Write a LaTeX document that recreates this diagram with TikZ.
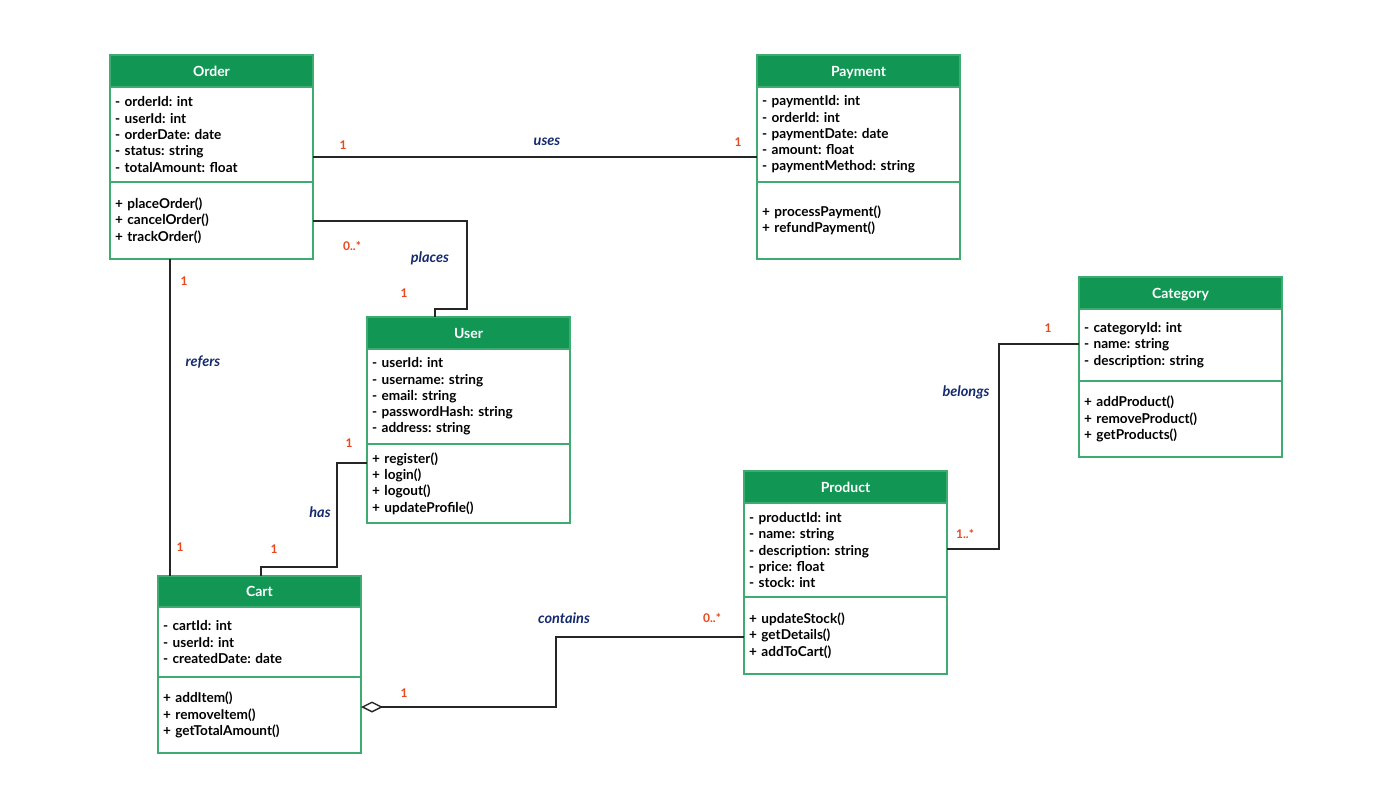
\documentclass[tikz,border=0pt]{standalone}
\usepackage{fontspec}
\setmainfont{Lato}
\usetikzlibrary{arrows.meta}
\usetikzlibrary{positioning}
\definecolor{umlgreen}{RGB}{17,150,84}
\definecolor{umlborder}{RGB}{62,172,112}
\definecolor{multred}{RGB}{232,72,32}
\definecolor{relblue}{RGB}{22,42,110}
\frenchspacing

\begin{document}
\begin{tikzpicture}[
      x=1pt, y=-1pt,
      head/.style={rectangle, draw=umlborder, fill=umlgreen, text=white,
        line width=1.6pt, minimum width=203pt, minimum height=32pt,
        text height=10pt, text depth=0pt,
        inner sep=0pt, outer sep=0pt, font=\fontsize{14}{16}\selectfont\bfseries},
      members/.style={rectangle, draw=umlborder, line width=1.6pt,
        text width=193pt, inner xsep=5pt, inner ysep=0pt, outer sep=0pt,
        align=left, font=\fontsize{13.6}{16.3}\selectfont\bfseries},
      mult/.style={text=multred, font=\fontsize{12}{14}\selectfont\bfseries},
      rel/.style={text=relblue, font=\fontsize{14.5}{16}\selectfont\bfseries\itshape},
      link/.style={draw=black!85, line width=1.4pt}
    ]
      \fill [white] (0,0) rectangle (1389,807);
      \useasboundingbox (0,0) rectangle (1389,807);

      % classes
      \node [head, anchor=north west] (order) at (110,55) {Order};
      \node [members, below=0pt of order, minimum height=95pt] (orderattr)
            {- orderId: int\\- userId: int\\- orderDate: date\\- status: string\\- totalAmount: float};
      \node [members, below=0pt of orderattr, minimum height=77pt] (ordermeth)
            {+ placeOrder()\\+ cancelOrder()\\+ trackOrder()};

      \node [head, anchor=north west] (payment) at (757,55) {Payment};
      \node [members, below=0pt of payment, minimum height=95pt] (payattr)
            {- paymentId: int\\- orderId: int\\- paymentDate: date\\- amount: float\\- paymentMethod: string};
      \node [members, below=0pt of payattr, minimum height=77pt] (paymeth)
            {+ processPayment()\\+ refundPayment()};

      \node [head, anchor=north west] (user) at (367,317) {User};
      \node [members, below=0pt of user, minimum height=95pt] (userattr)
            {- userId: int\\- username: string\\- email: string\\- passwordHash: string\\- address: string};
      \node [members, below=0pt of userattr, minimum height=79pt] (usermeth)
            {+ register()\\+ login()\\+ logout()\\+ updateProfile()};

      \node [head, anchor=north west] (category) at (1079,277) {Category};
      \node [members, below=0pt of category, minimum height=72pt] (catattr)
            {- categoryId: int\\- name: string\\- description: string};
      \node [members, below=0pt of catattr, minimum height=76pt] (catmeth)
            {+ addProduct()\\+ removeProduct()\\+ getProducts()};

      \node [head, anchor=north west] (product) at (744,471) {Product};
      \node [members, below=0pt of product, minimum height=94pt] (prodattr)
            {- productId: int\\- name: string\\- description: string\\- price: float\\- stock: int};
      \node [members, below=0pt of prodattr, minimum height=77pt] (prodmeth)
            {+ updateStock()\\+ getDetails()\\+ addToCart()};

      \node [head, anchor=north west, minimum height=31pt] (cart) at (158,576) {Cart};
      \node [members, below=0pt of cart, minimum height=70pt] (cartattr)
            {- cartId: int\\- userId: int\\- createdDate: date};
      \node [members, below=0pt of cartattr, minimum height=76pt] (cartmeth)
            {+ addItem()\\+ removeItem()\\+ getTotalAmount()};

      % relations
      \draw [link] (orderattr.east |- 0,157) -- (payattr.west |- 0,157);
      \draw [link] (ordermeth.east |- 0,221) -- (467,221) |- (435,309)
            -- (user.north -| 435,0);
      \draw [link] (ordermeth.south -| 170,0) -- (cart.north -| 170,0);
      \draw [link] (usermeth.west |- 0,463) -- (337,463) |- (261,567)
            -- (cart.north -| 261,0);
      \draw [link, {Diamond[open, length=22pt, width=11pt, line width=1.4pt]}-]
            (cartmeth.east |- 0,707) -- (556,707) |- (prodmeth.west |- 0,637);
      \draw [link] (prodattr.east |- 0,549) -- (999,549) |- (catattr.west |- 0,344);

      % labels
      \node [mult] (usesa) at (343,145) {1};
      \node [rel] (uses) at (547,142) {uses};
      \node [mult] (usesb) at (738,142) {1};
      \node [mult] (placesa) at (352,246) {0..*};
      \node [rel] (places) at (430,258) {places};
      \node [mult] (placesb) at (404,293) {1};
      \node [mult] (refersa) at (184,281) {1};
      \node [rel] (refers) at (203,362) {refers};
      \node [mult] (refersb) at (180,547) {1};
      \node [mult] (hasa) at (349,443) {1};
      \node [rel] (has) at (320,512) {has};
      \node [mult] (hasb) at (274,549) {1};
      \node [mult] (containsa) at (404,693) {1};
      \node [rel] (contains) at (564,618) {contains};
      \node [mult] (containsb) at (712,618) {0..*};
      \node [mult] (belongsa) at (965,534) {1..*};
      \node [rel] (belongs) at (966,392) {belongs};
      \node [mult] (belongsb) at (1048,328) {1};
    \end{tikzpicture}
\end{document}
